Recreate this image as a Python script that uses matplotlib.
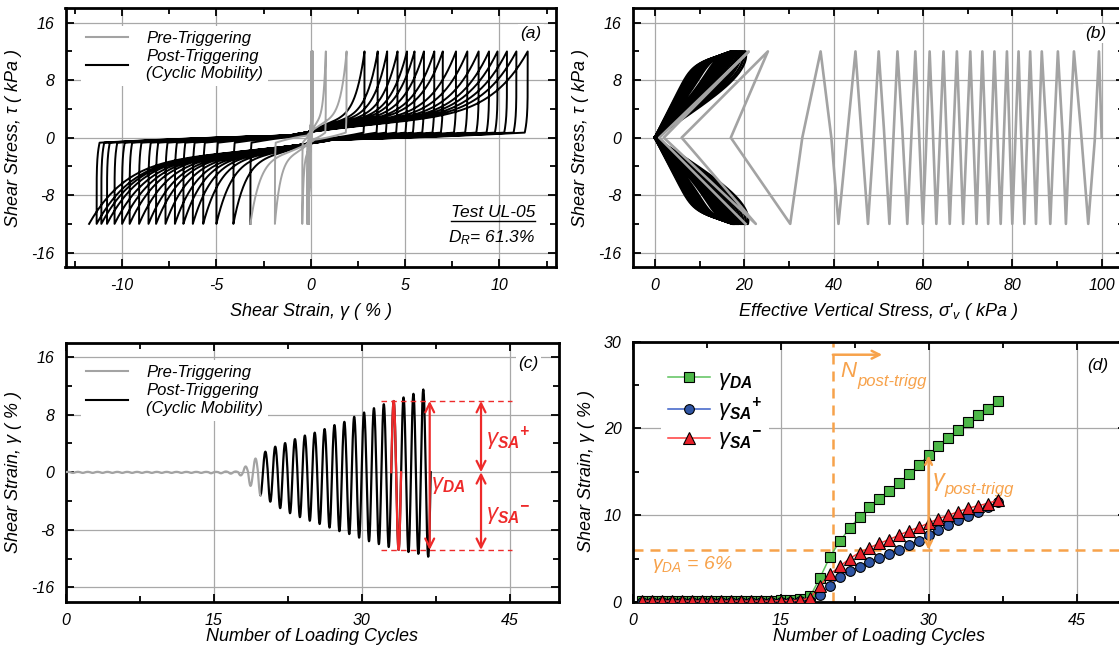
import numpy as np
import matplotlib.pyplot as plt
from matplotlib.lines import Line2D
from matplotlib.ticker import MultipleLocator

plt.rcParams['font.family'] = ['Liberation Sans', 'DejaVu Sans']
plt.rcParams['font.style'] = 'italic'
plt.rcParams['axes.unicode_minus'] = False
plt.rcParams['mathtext.fontset'] = 'custom'
plt.rcParams['mathtext.rm'] = 'Liberation Sans'
plt.rcParams['mathtext.it'] = 'Liberation Sans:italic'
plt.rcParams['mathtext.bf'] = 'Liberation Sans:bold:italic'

# per-cycle strain amplitudes (%), test UL-05
cycles = np.arange(1, 38)
gamma_da = [0.15, 0.15, 0.15, 0.15, 0.15, 0.15, 0.15, 0.15, 0.15, 0.15,
            0.15, 0.15, 0.15, 0.15, 0.2, 0.2, 0.3, 0.65, 2.8, 5.2,
            7.0, 8.5, 9.8, 10.9, 11.85, 12.8, 13.7, 14.7, 15.8, 16.9,
            18.0, 18.9, 19.8, 20.8, 21.5, 22.3, 23.2]
gamma_sa_pos = [0.05, 0.05, 0.05, 0.05, 0.05, 0.05, 0.05, 0.05, 0.05, 0.05,
                0.05, 0.05, 0.05, 0.05, 0.05, 0.05, 0.1, 0.1, 0.8, 1.9,
                2.85, 3.55, 4.05, 4.6, 5.1, 5.5, 6.0, 6.55, 7.0, 7.7,
                8.3, 8.9, 9.45, 9.9, 10.4, 10.9, 11.5]
gamma_sa_neg = [0.1, 0.1, 0.1, 0.1, 0.1, 0.1, 0.1, 0.1, 0.1, 0.1,
                0.1, 0.1, 0.1, 0.1, 0.15, 0.15, 0.2, 0.45, 1.9, 3.2,
                4.1, 5.0, 5.7, 6.25, 6.75, 7.2, 7.7, 8.2, 8.6, 9.1,
                9.6, 10.0, 10.4, 10.8, 11.1, 11.35, 11.75]
n_trigger = 20          # last pre-triggering cycle
n_post_trigg = 20.3     # onset of post-triggering marked in (d)
gamma_da_limit = 6.0
highlight_cycle = 34
tau_cyc = 12.0          # cyclic shear stress amplitude, kPa

# effective vertical stress at quarter-cycle points, pre-triggering cycles (kPa)
sig_zero_up = [100.0, 95.5, 91.3, 87.7, 84.7, 82.0, 79.4, 76.7, 74.0, 71.3,
               68.3, 65.3, 62.3, 59.2, 55.5, 51.4, 46.3, 39.5, 17.0, 2.0]
sig_peak = [99.4, 93.8, 90.2, 86.6, 84.0, 81.4, 78.8, 76.0, 73.3, 70.6,
            67.6, 64.6, 61.5, 58.3, 54.3, 50.1, 44.9, 37.1, 25.3, 21.0]
sig_zero_down = [98.5, 92.8, 89.3, 85.9, 83.3, 80.7, 78.1, 75.3, 72.6, 69.8,
                 66.8, 63.8, 60.8, 57.4, 53.4, 49.0, 43.0, 33.0, 6.0, 1.0]
sig_trough = [97.0, 92.0, 88.5, 85.3, 82.7, 80.0, 77.4, 74.6, 72.0, 69.0,
              66.0, 63.0, 60.0, 56.5, 52.5, 47.7, 41.1, 30.3, 22.6, 20.3]
# peak effective stress of the post-triggering butterfly loops (kPa)
sig_post_pos = [20.3, 20.0, 19.6, 19.4, 19.1, 18.9, 18.6, 18.4, 18.2, 18.0,
                17.8, 17.6, 17.5, 17.4, 17.3, 17.2, 17.1]
sig_post_neg = [20.8, 20.4, 20.0, 19.7, 19.4, 19.2, 18.9, 18.7, 18.5, 18.3,
                18.1, 17.9, 17.8, 17.7, 17.6, 17.5, 17.4]

GRAY = '#a3a3a3'
ORANGE = '#f7a24b'
RED = '#ee2a2a'

W, H = 1119, 652
fig = plt.figure(figsize=(W / 100, H / 100), dpi=100)


def add_ax(l, t, r, b):
    return fig.add_axes([l / W, 1 - b / H, (r - l) / W, (b - t) / H])


def style(ax, xmaj, xmin, ymaj, ymin):
    ax.xaxis.set_major_locator(MultipleLocator(xmaj))
    ax.xaxis.set_minor_locator(MultipleLocator(xmin))
    ax.yaxis.set_major_locator(MultipleLocator(ymaj))
    ax.yaxis.set_minor_locator(MultipleLocator(ymin))
    ax.tick_params(which='both', direction='in', top=True, right=True,
                   width=1.3, labelsize=11.5, pad=8)
    ax.tick_params(which='major', length=6)
    ax.tick_params(which='minor', length=4)
    ax.grid(True, which='major', color='#a8a8a8', lw=0.9)
    ax.set_axisbelow(True)
    for s in ax.spines.values():
        s.set_linewidth(2.0)


def tag(ax, x, y, s):
    ax.text(x, y, s, transform=ax.transAxes, fontsize=12.5, ha='center',
            va='center', bbox=dict(fc='white', ec='none', pad=1.5), zorder=5)


def branch(g0, g1, sign):
    # one half-cycle of the stress-strain loop, from (g0, -sign*tau) to (g1, sign*tau)
    a, b = sign * g0, sign * g1
    d = 0.02 + 0.012 * abs(a)
    w = np.linspace(0, 1, 40)
    gu = a + d * w ** 6
    tu = -tau_cyc + (tau_cyc - 0.7) * w
    gz = 0.1 * a
    gf = np.linspace(a + d, gz, 40)
    v = np.linspace(0, 1, 40)
    tf = -0.7 * (1 - v) ** 2 + 0.3 * v ** 2
    gr = np.linspace(gz, b, 120)
    u = (gr - gz) / max(b - gz, 1e-9)
    tr = 0.3 + (tau_cyc - 0.3) * (0.3 * u ** 0.8 + 0.7 * u ** 7)
    g = np.concatenate([gu, gf, gr])
    t = np.concatenate([tu, tf, tr])
    return sign * g, sign * t


# ---------------- (a) stress-strain loops ----------------
ax_a = add_ax(65.5, 8.3, 556, 267)
style(ax_a, 5, 2.5, 8, 4)
ax_a.set_xlim(-13, 13)
ax_a.set_ylim(-18, 18)

extremes = []
for sp, sn in zip(gamma_sa_pos, gamma_sa_neg):
    extremes += [sp, -sn]
pre_g, pre_t = [np.array([0.0, extremes[0]])], [np.array([0.0, tau_cyc])]
post_g, post_t = [], []
for k in range(1, len(extremes)):
    sign = 1 if k % 2 == 0 else -1
    g, t = branch(extremes[k - 1], extremes[k], sign)
    if k <= 2 * n_trigger - 1:
        pre_g.append(g)
        pre_t.append(t)
    else:
        post_g.append(g)
        post_t.append(t)
ax_a.plot(np.concatenate(post_g), np.concatenate(post_t), color='black', lw=1.4, zorder=2)
ax_a.plot(np.concatenate(pre_g), np.concatenate(pre_t), color=GRAY, lw=1.4, zorder=3)

ax_a.set_xlabel(r'Shear Strain, $\mathrm{\gamma}$ ( % )', fontsize=13, labelpad=6)
ax_a.set_ylabel(r'Shear Stress, $\mathrm{\tau}$ ( kPa )', fontsize=13, labelpad=5)
tag(ax_a, 0.949, 0.904, '(a)')
t_test = ax_a.text(0.958, 0.209, 'Test UL-05', transform=ax_a.transAxes,
                   fontsize=12.5, ha='right', va='center')
ax_a.text(0.958, 0.112, r'$D_{R}$= 61.3%', transform=ax_a.transAxes,
          fontsize=12.5, ha='right', va='center')

legend_handles = [Line2D([], [], color=GRAY, lw=1.5), Line2D([], [], color='black', lw=1.5)]
legend_labels = ['Pre-Triggering', 'Post-Triggering\n(Cyclic Mobility)']


def strain_legend(ax):
    leg = ax.legend(legend_handles, legend_labels, loc='upper left',
                    bbox_to_anchor=(0.015, 0.965), fontsize=12, frameon=True,
                    fancybox=False, edgecolor='none', facecolor='white',
                    framealpha=1, handlelength=2.5, handletextpad=1.1,
                    labelspacing=0.2, borderpad=0.3)
    leg.set_zorder(6)


strain_legend(ax_a)

# ---------------- (b) stress path ----------------
ax_b = add_ax(632.5, 8.3, 1124, 267)
style(ax_b, 20, 10, 8, 4)
ax_b.set_xlim(-5, 105)
ax_b.set_ylim(-18, 18)

t_leaf = np.linspace(0, 1, 100)
edge_r = 1.4 * t_leaf - 0.4 * t_leaf ** 4
edge_l = 0.48 * t_leaf + 0.52 * t_leaf ** 12
mix = np.linspace(0, 0.45, len(sig_post_pos))
for sp, sn, m in zip(sig_post_pos, sig_post_neg, mix):
    load = (1 - m) * edge_r + m * edge_l
    unload = (1 - m) * edge_l + m * edge_r
    for spk, sgn in ((sp, 1), (sn, -1)):
        s = np.concatenate([spk * load, spk * unload[::-1]])
        tt = np.concatenate([t_leaf, t_leaf[::-1]]) * tau_cyc * sgn
        ax_b.plot(s, tt, color='black', lw=1.8, zorder=2)

# pre-triggering path: straight strokes between quarter-cycle points
node_s, node_t = [], []
for i in range(len(sig_peak)):
    node_s += [sig_zero_up[i], sig_peak[i], sig_zero_down[i], sig_trough[i]]
    node_t += [0.0, tau_cyc, 0.0, -tau_cyc]
path_s, path_t = [], []
for j in range(len(node_s) - 1):
    f = np.linspace(0, 1, 30)
    path_s.append(node_s[j] + (node_s[j + 1] - node_s[j]) * f)
    path_t.append(node_t[j] + (node_t[j + 1] - node_t[j]) * f)
ax_b.plot(np.concatenate(path_s), np.concatenate(path_t), color=GRAY, lw=1.9,
          zorder=3, solid_joinstyle='round')

ax_b.set_xlabel("Effective Vertical Stress, \u03c3'$_{v}$ ( kPa )", fontsize=13, labelpad=6)
ax_b.set_ylabel(r'Shear Stress, $\mathrm{\tau}$ ( kPa )', fontsize=13, labelpad=5)
tag(ax_b, 0.943, 0.904, '(b)')

# ---------------- (c) strain time history ----------------
ax_c = add_ax(65.5, 342.7, 559, 601.7)
style(ax_c, 15, 7.5, 8, 4)
ax_c.set_xlim(0, 50)
ax_c.set_ylim(-18, 18)

tt_all, gg_all = [], []
for i, n in enumerate(cycles):
    u = np.linspace(0, 1, 60)
    amp = np.where(u <= 0.5, gamma_sa_pos[i], gamma_sa_neg[i])
    tt_all.append(n - 1 + u)
    gg_all.append(amp * np.sin(2 * np.pi * u))
tt_all = np.concatenate(tt_all)
gg_all = np.concatenate(gg_all)
split = n_trigger - 0.25
pre = tt_all <= split
post = tt_all >= split
ax_c.plot(tt_all[post], gg_all[post], color='black', lw=1.6, zorder=2)
ax_c.plot(tt_all[pre], gg_all[pre], color=GRAY, lw=1.6, zorder=3)
hl = (tt_all >= highlight_cycle - 1) & (tt_all <= highlight_cycle)
ax_c.plot(tt_all[hl], gg_all[hl], color=RED, lw=1.6, zorder=4)

g_top = gamma_sa_pos[highlight_cycle - 1]
g_bot = -gamma_sa_neg[highlight_cycle - 1]
ax_c.hlines([g_top, g_bot], 32, 45.2, colors=RED, lw=1.0, linestyles=(0, (4, 3)), zorder=4)
arrow_kw = dict(arrowstyle='<->', color=RED, lw=1.6, mutation_scale=16, shrinkA=0, shrinkB=0)
ax_c.annotate('', xy=(36.9, g_top), xytext=(36.9, g_bot), arrowprops=arrow_kw, zorder=4)
ax_c.annotate('', xy=(42.1, g_top), xytext=(42.1, 0), arrowprops=arrow_kw, zorder=4)
ax_c.annotate('', xy=(42.1, 0), xytext=(42.1, g_bot), arrowprops=arrow_kw, zorder=4)
ax_c.text(38.8, -1.9, r'$\mathrm{\gamma}_{\mathbf{DA}}$', color=RED, fontsize=16, ha='center', va='center')
ax_c.text(44.9, 4.6, r'$\mathrm{\gamma}_{\mathbf{SA}}{}^{\mathbf{+}}$', color=RED, fontsize=16, ha='center', va='center')
ax_c.text(44.9, -6.0, r'$\mathrm{\gamma}_{\mathbf{SA}}{}^{\mathbf{-}}$', color=RED, fontsize=16, ha='center', va='center')

ax_c.set_xlabel('Number of Loading Cycles', fontsize=13, labelpad=0)
ax_c.set_ylabel(r'Shear Strain, $\mathrm{\gamma}$ ( % )', fontsize=13, labelpad=5)
tag(ax_c, 0.938, 0.919, '(c)')
strain_legend(ax_c)

# ---------------- (d) strain amplitudes per cycle ----------------
ax_d = add_ax(632.5, 341.7, 1126, 602)
style(ax_d, 15, 7.5, 10, 5)
ax_d.set_xlim(0, 50)
ax_d.set_ylim(0, 30)

ax_d.plot(cycles, gamma_da, color='#5cc25c', lw=1.1, marker='s', ms=6.5,
          mfc='#4db848', mec='black', mew=0.8, zorder=3,
          label=r'$\mathrm{\gamma}_{\mathbf{DA}}$')
ax_d.plot(cycles, gamma_sa_pos, color='#3a5fc8', lw=1.1, marker='o', ms=7,
          mfc='#2f55a4', mec='black', mew=0.8, zorder=3,
          label=r'$\mathrm{\gamma}_{\mathbf{SA}}{}^{\mathbf{+}}$')
ax_d.plot(cycles, gamma_sa_neg, color='#ff3a3a', lw=1.1, marker='^', ms=8,
          mfc='#e8202a', mec='black', mew=0.8, zorder=4,
          label=r'$\mathrm{\gamma}_{\mathbf{SA}}{}^{\mathbf{-}}$')

dash = (0, (4, 2.8))
ax_d.axhline(gamma_da_limit, color=ORANGE, lw=1.8, ls=dash, zorder=2)
ax_d.axvline(n_post_trigg, color=ORANGE, lw=1.8, ls=dash, zorder=2)
ax_d.annotate('', xy=(n_post_trigg + 5, 28.5), xytext=(n_post_trigg, 28.5),
              arrowprops=dict(arrowstyle='->', color=ORANGE, lw=1.8,
                              mutation_scale=14, shrinkA=0, shrinkB=0))
ax_d.text(n_post_trigg + 0.8, 25.9, 'N', color=ORANGE, fontsize=16, ha='left', va='baseline')
ax_d.text(n_post_trigg + 2.5, 24.9, 'post-trigg', color=ORANGE, fontsize=12, ha='left', va='baseline')
da_30 = gamma_da[list(cycles).index(30)]
ax_d.annotate('', xy=(30, da_30), xytext=(30, gamma_da_limit),
              arrowprops=dict(arrowstyle='<->', color=ORANGE, lw=1.8,
                              mutation_scale=12, shrinkA=0, shrinkB=0), zorder=5)
ax_d.text(30.3, 13.4, r'$\mathrm{\gamma}$', color=ORANGE, fontsize=17, ha='left', va='baseline')
ax_d.text(31.6, 12.4, 'post-trigg', color=ORANGE, fontsize=12, ha='left', va='baseline')
ax_d.text(2.0, 3.8, r'$\mathrm{\gamma}_{DA}$ = 6%', color=ORANGE, fontsize=14, ha='left', va='baseline')

leg = ax_d.legend(loc='upper left', bbox_to_anchor=(0.035, 0.965), fontsize=16,
                  frameon=True, fancybox=False, edgecolor='none', facecolor='white',
                  framealpha=1, handlelength=1.9, handletextpad=0.35,
                  labelspacing=0.2, borderpad=0.3)
leg.set_zorder(6)
ax_d.set_xlabel('Number of Loading Cycles', fontsize=13, labelpad=0)
ax_d.set_ylabel(r'Shear Strain, $\mathrm{\gamma}$ ( % )', fontsize=13, labelpad=5)
tag(ax_d, 0.942, 0.91, '(d)')

# underline under the test name
fig.canvas.draw()
bb = t_test.get_window_extent()
fig.add_artist(Line2D([bb.x0 / W, bb.x1 / W], [(bb.y0 - 1) / H, (bb.y0 - 1) / H],
                      color='black', lw=1.0))

fig.savefig('out.png', dpi=100)
